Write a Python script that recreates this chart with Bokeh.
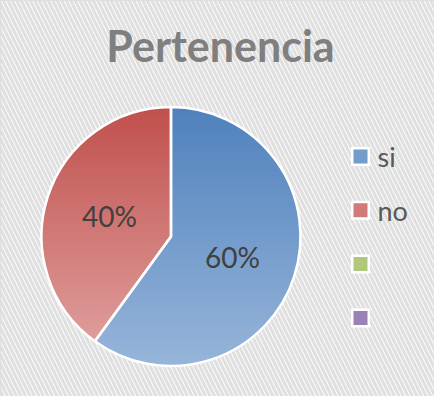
import numpy as np
from bokeh.plotting import figure
from bokeh.models import Range1d
from bokeh.core.properties import value
from bokeh.embed import file_html
from bokeh.resources import INLINE

# ---- data ----
title_text = "Pertenencia"
categories = ["si", "no", "", ""]
shares = [60, 40, 0, 0]
label_texts = ["60%", "40%"]

# ---- styles ----
top_colors = ["#4f81bd", "#c0504d", "#9bbb59", "#8064a2"]
bottom_colors = ["#97b5d9", "#e2a5a3", "#c3d69b", "#b3a2c7"]

W, H = 434, 396


def px(X, Y):
    """page pixel -> data coords"""
    return X - 8, H - (Y - 8)


cx, cy = px(178.5, 244)
R = 129.5

p = figure(width=W, height=H, output_backend="svg", toolbar_location=None,
           x_range=Range1d(0, W), y_range=Range1d(0, H),
           min_border=0, min_border_left=0, min_border_right=0,
           min_border_top=0, min_border_bottom=0)
p.axis.visible = False
p.grid.visible = False
p.background_fill_color = "white"
p.border_fill_color = "white"
p.outline_line_color = "#d4d4d4"
p.outline_line_width = 2

# hatched chart-area background
p.quad(left=[0], right=[W], bottom=[0], top=[H], fill_color="white", line_color=None,
       hatch_pattern="left_diagonal_line", hatch_color="#e0e0e0",
       hatch_scale=9, hatch_weight=3.2)


def hex2rgb(h):
    h = h.lstrip("#")
    return np.array([int(h[i:i + 2], 16) for i in (0, 2, 4)], dtype=float)


def mix(c1, c2, t):
    c = hex2rgb(c1) * (1 - t) + hex2rgb(c2) * t
    return "#%02x%02x%02x" % tuple(int(round(v)) for v in c)


def clip(pts, keep, yv):
    out = []
    n = len(pts)
    for i in range(n):
        cur, prev = pts[i], pts[i - 1]
        ci, pi = keep(cur), keep(prev)
        if ci:
            if not pi:
                t = (yv - prev[1]) / (cur[1] - prev[1])
                out.append((prev[0] + t * (cur[0] - prev[0]), yv))
            out.append(cur)
        elif pi:
            t = (yv - prev[1]) / (cur[1] - prev[1])
            out.append((prev[0] + t * (cur[0] - prev[0]), yv))
    return out


total = float(sum(shares))
fracs = [s / total for s in shares]
starts = np.concatenate([[0], np.cumsum(fracs)[:-1]])

NB = 60
band_edges = np.linspace(cy - R, cy + R, NB + 1)
for i, (f, s0) in enumerate(zip(fracs, starts)):
    if f <= 0:
        continue
    th = np.linspace(s0, s0 + f, 240) * 2 * np.pi
    poly = [(cx, cy)] + [(cx + R * np.sin(t), cy + R * np.cos(t)) for t in th]
    xs, ys, cols = [], [], []
    for b in range(NB):
        lo, hi = band_edges[b] - 0.6, band_edges[b + 1] + 0.6
        pts = clip(poly, lambda q: q[1] >= lo, lo)
        if not pts:
            continue
        pts = clip(pts, lambda q: q[1] <= hi, hi)
        if len(pts) < 3:
            continue
        xs.append([q[0] for q in pts])
        ys.append([q[1] for q in pts])
        tmid = 1 - ((band_edges[b] + band_edges[b + 1]) / 2 - (cy - R)) / (2 * R)
        cols.append(mix(top_colors[i], bottom_colors[i], tmid))
    p.patches(xs, ys, fill_color=cols, line_color=None)

# white separators / outline
for i, (f, s0) in enumerate(zip(fracs, starts)):
    if f <= 0:
        continue
    a0 = np.pi / 2 - s0 * 2 * np.pi
    a1 = np.pi / 2 - (s0 + f) * 2 * np.pi
    p.wedge(x=cx, y=cy, radius=R, start_angle=a0, end_angle=a1, direction="clock",
            fill_alpha=0, line_color="white", line_width=2.5)

# percentage labels
lx, ly = [], []
for f, s0 in zip(fracs[:2], starts[:2]):
    m = (s0 + f / 2) * 2 * np.pi
    lx.append(cx + 0.5 * R * np.sin(m))
    ly.append(cy + 0.5 * R * np.cos(m))
p.text(x=lx, y=ly, text=label_texts, text_font=value("Lato"), text_font_size="28px",
       text_color="#404040", text_align="center", text_baseline="middle")

# title
tx, ty = px(228, 53)
p.text(x=[tx], y=[ty], text=[title_text], text_font=value("Lato"), text_font_size="43px",
       text_font_style="bold", text_color="#7f7f7f", text_align="center",
       text_baseline="middle")

# legend
lgx, lgy0 = px(368, 164)
step = 53.8
ys_l = [lgy0 - k * step for k in range(len(categories))]
mid_cols = [mix(t, b, 0.5) for t, b in zip(top_colors, bottom_colors)]
p.rect(x=[lgx] * len(categories), y=ys_l, width=19, height=19,
       fill_color="white", line_color=None)
p.rect(x=[lgx] * len(categories), y=ys_l, width=14, height=14,
       fill_color=mid_cols, line_color=None)
p.text(x=[lgx + 17] * len(categories), y=ys_l, text=categories, text_font=value("Lato"),
       text_font_size="27px", text_color="#595959", text_align="left",
       text_baseline="middle")

open("out.html", "w").write(file_html(p, INLINE))
